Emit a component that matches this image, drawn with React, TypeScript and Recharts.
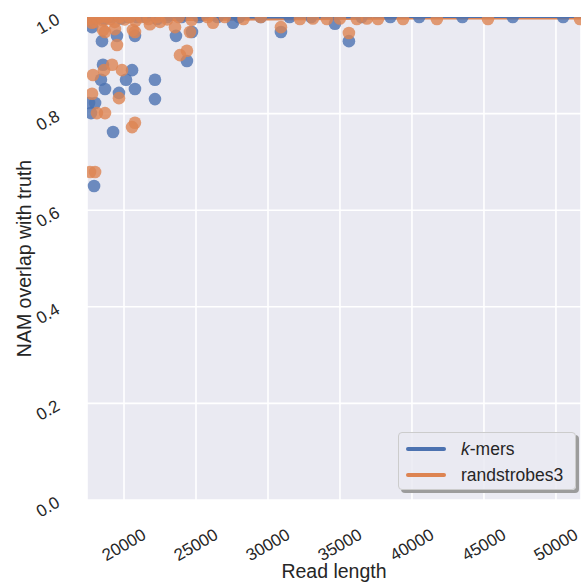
import React from 'react'
import { ComposedChart, Scatter, Line, XAxis, YAxis, CartesianGrid } from 'recharts'

// read length / overlap pairs
const kmersX = [
  17780, 18470, 19510, 20760, 23610, 24720, 27570, 30900, 18540, 20560,
  18400, 20140, 22150, 18680, 19650, 20760, 22150, 17990, 17570, 17710,
  19240, 17920, 24370, 34650, 35620,
  17450, 17650, 18000, 18250, 18600, 18900, 19200, 19800, 20300, 20900,
  21500, 22300, 23000, 24000, 25200, 26500, 28000, 29500, 31500, 33000,
  36500, 38500, 40500, 43500, 47000, 50500,
]
const kmersY = [
  0.979, 0.95, 0.961, 0.961, 0.961, 0.969, 0.988, 0.969, 0.901, 0.89,
  0.87, 0.87, 0.87, 0.851, 0.843, 0.851, 0.83, 0.822, 0.822, 0.801,
  0.762, 0.65, 0.909, 0.986, 0.95,
  1.0, 0.995, 1.0, 1.0, 0.996, 1.0, 1.0, 0.997, 1.0, 1.0,
  1.0, 0.996, 1.0, 1.0, 1.0, 1.0, 1.0, 1.0, 1.0, 1.0,
  1.0, 1.0, 1.0, 1.0, 1.0, 1.0,
]

const randX = [
  17780, 18680, 19510, 20760, 23540, 24580, 26180, 23890, 24370, 19170,
  18610, 17850, 19860, 17780, 19650, 18120, 18680, 20560, 20760, 17640,
  17990, 30900, 35620, 18540, 19370, 20620, 21800, 22500,
  17500, 17700, 17950, 18150, 18350, 18550, 18800, 19050, 19350, 19700,
  20050, 20400, 20800, 21200, 21700, 22300, 23000, 23800, 24700, 25800,
  27000, 28300, 29500, 32220, 33120, 34090, 34990, 36170, 36870, 37640,
  39380, 41730, 45280, 51670,
]
const randY = [
  0.988, 0.969, 0.942, 0.969, 0.979, 0.969, 0.988, 0.921, 0.93, 0.901,
  0.89, 0.88, 0.89, 0.841, 0.832, 0.801, 0.801, 0.772, 0.781, 0.679,
  0.679, 0.979, 0.967, 0.973, 0.975, 0.973, 0.985, 0.99,
  0.995, 1.0, 0.99, 0.997, 1.0, 0.993, 1.0, 0.996, 0.99, 1.0,
  0.995, 1.0, 0.992, 1.0, 0.996, 1.0, 0.995, 1.0, 0.994, 1.0,
  1.0, 0.996, 1.0, 0.996, 0.997, 0.996, 0.997, 0.996, 0.997, 0.996,
  0.996, 0.996, 0.996, 0.996,
]

// mean lines along the top
const lineX = [17430, 20000, 25000, 30000, 35000, 40000, 45000, 51740]
const kmersLineY = [0.998, 0.999, 0.999, 0.999, 0.999, 1.0, 1.0, 1.0]
const randLineY = [0.994, 0.995, 0.995, 0.996, 0.997, 0.998, 0.998, 0.998]

const xTicks = [20000, 25000, 30000, 35000, 40000, 45000, 50000]
const yTicks = [0, 0.2, 0.4, 0.6, 0.8, 1.0]
const xDomain = [17430, 51740]

const BLUE = '#4C72B0'
const ORANGE = '#DD8452'
const FONT = '"Liberation Sans", Arial, sans-serif'
const TEXT = '#262626'

const kmers = kmersX.map((x, i) => ({ x, y: kmersY[i] }))
const rand = randX.map((x, i) => ({ x, y: randY[i] }))
const kmersLine = lineX.map((x, i) => ({ x, y: kmersLineY[i] }))
const randLine = lineX.map((x, i) => ({ x, y: randLineY[i] }))

const Dot = (color: string) => (props: any) => (
  <circle cx={props.cx} cy={props.cy} r={6.3} fill={color} fillOpacity={0.8} />
)

const XTick = ({ x, y, payload }: any) => (
  <text
    x={x}
    y={y + 37}
    transform={`rotate(-30, ${x}, ${y + 37})`}
    textAnchor="middle"
    dominantBaseline="central"
    fontSize={17}
    fontFamily={FONT}
    fill={TEXT}
  >
    {payload.value}
  </text>
)

const YTick = ({ x, y, payload }: any) => (
  <text
    x={x - 31}
    y={y + 7}
    transform={`rotate(-30, ${x - 31}, ${y + 7})`}
    textAnchor="middle"
    dominantBaseline="central"
    fontSize={17}
    fontFamily={FONT}
    fill={TEXT}
  >
    {payload.value.toFixed(1)}
  </text>
)

const LegendBox = () => (
  <div
    style={{
      position: 'absolute',
      left: 398,
      top: 432,
      width: 178,
      height: 58,
      background: 'rgba(234,234,242,0.85)',
      border: '1px solid #cccccc',
      borderRadius: 4,
      boxShadow: '3px 3px 0 #9c9c9c',
      fontFamily: FONT,
      fontSize: 17.5,
      color: TEXT,
      boxSizing: 'border-box',
    }}
  >
    {[
      { label: <><i>k</i>-mers</>, color: BLUE },
      { label: 'randstrobes3', color: ORANGE },
    ].map((e, i) => (
      <div key={i} style={{ position: 'absolute', left: 7, top: 4 + i * 26, height: 24, display: 'flex', alignItems: 'center' }}>
        <div style={{ width: 40, height: 3.5, background: e.color, borderRadius: 2 }} />
        <span style={{ marginLeft: 15 }}>{e.label}</span>
      </div>
    ))}
  </div>
)

export default function App() {
  return (
    <div style={{ position: 'absolute', left: 0, top: 0, width: 582, height: 588, background: '#fff' }}>
      <ComposedChart width={582} height={588} margin={{ top: 17, right: 1, bottom: 0, left: 0 }}>
        <CartesianGrid fill="#EAEAF2" stroke="#ffffff" strokeWidth={1.6} />
        <XAxis
          type="number"
          dataKey="x"
          domain={xDomain}
          ticks={xTicks}
          allowDataOverflow
          axisLine={false}
          tickLine={false}
          height={88}
          tick={<XTick />}
          label={{ value: 'Read length', position: 'insideBottom', offset: 10, fontSize: 19.5, fontFamily: FONT, fill: TEXT }}
        />
        <YAxis
          type="number"
          dataKey="y"
          domain={[0, 1]}
          ticks={yTicks}
          allowDataOverflow
          axisLine={false}
          tickLine={false}
          width={87}
          tick={<YTick />}
          label={{ value: 'NAM overlap with truth', angle: -90, position: 'insideLeft', offset: 24, fontSize: 19.5, fontFamily: FONT, fill: TEXT, style: { textAnchor: 'middle' } }}
        />
        <Scatter data={kmers} dataKey="y" fill={BLUE} shape={Dot(BLUE)} isAnimationActive={false} />
        <Scatter data={rand} dataKey="y" fill={ORANGE} shape={Dot(ORANGE)} isAnimationActive={false} />
        <Line data={randLine} dataKey="y" stroke={ORANGE} strokeWidth={3} dot={false} isAnimationActive={false} />
        <Line data={kmersLine} dataKey="y" stroke={BLUE} strokeWidth={2} dot={false} isAnimationActive={false} />
      </ComposedChart>
      <LegendBox />
    </div>
  )
}
